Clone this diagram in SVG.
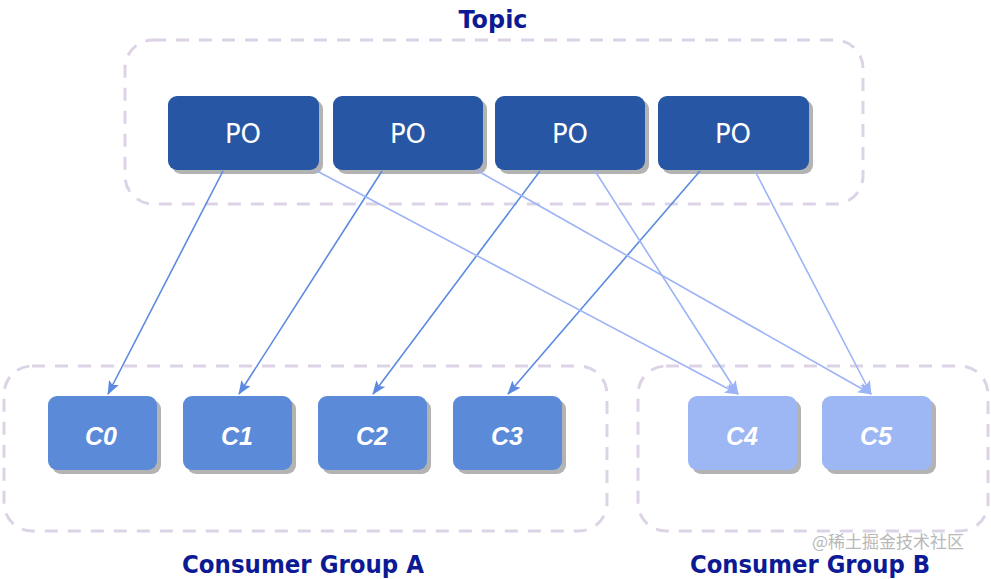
<svg xmlns="http://www.w3.org/2000/svg" width="991" height="579" viewBox="0 0 991 579">
<defs>
<style>
.grp{fill:none;stroke:#ddd3e6;stroke-width:3;stroke-dasharray:13 10}
.sh{fill:#b3b3b3}
.p{fill:#2756a4}
.ca{fill:#5b8ad9}
.cb{fill:#9db6f4}
.pt{font-family:"DejaVu Sans",sans-serif;font-size:26px;fill:#fff;text-anchor:middle}
.ct{font-family:"Liberation Sans",sans-serif;font-size:25px;font-weight:bold;font-style:italic;fill:#fff;text-anchor:middle}
.lbl{font-family:"DejaVu Sans",sans-serif;font-size:24px;font-weight:bold;fill:#0c1a94;text-anchor:middle}
.la{stroke:#5b8ae0;stroke-width:1.6;fill:none}
.lb{stroke:#9cb4f5;stroke-width:1.6;fill:none}
.wm{font-family:"Noto Sans CJK SC",sans-serif;font-size:17px;fill:#b8b8b8}
</style>
<marker id="ma" viewBox="0 0 14 11" refX="13" refY="5.5" markerWidth="14" markerHeight="11" markerUnits="userSpaceOnUse" orient="auto"><path d="M0,0 L14,5.5 L0,11 L3,5.5 Z" fill="#5b8ae0"/></marker>
<marker id="mb" viewBox="0 0 14 11" refX="13" refY="5.5" markerWidth="14" markerHeight="11" markerUnits="userSpaceOnUse" orient="auto"><path d="M0,0 L14,5.5 L0,11 L3,5.5 Z" fill="#9cb4f5"/></marker>
</defs>
<rect width="991" height="579" fill="#fff"/>

<g id="topic">
<rect class="grp" x="125" y="40" width="738" height="164" rx="28"/>
<text class="lbl" x="493" y="28" textLength="69" lengthAdjust="spacingAndGlyphs">Topic</text>
</g>
<g id="groupA">
<rect class="grp" x="4" y="366" width="603" height="165" rx="28"/>
<text class="lbl" x="303" y="573" textLength="242" lengthAdjust="spacingAndGlyphs">Consumer Group A</text>
</g>
<g id="groupB">
<rect class="grp" x="638" y="366" width="350" height="165" rx="28"/>
<text class="lbl" x="810" y="573" textLength="240" lengthAdjust="spacingAndGlyphs">Consumer Group B</text>
</g>

<g id="p1"><rect class="sh" x="172" y="100" width="151" height="74" rx="9"/><rect class="p" x="168" y="96" width="151" height="74" rx="9"/><text class="pt" x="243" y="143">PO</text></g>
<g id="p2"><rect class="sh" x="337" y="100" width="150" height="74" rx="9"/><rect class="p" x="333" y="96" width="150" height="74" rx="9"/><text class="pt" x="408" y="143">PO</text></g>
<g id="p3"><rect class="sh" x="499" y="100" width="150" height="74" rx="9"/><rect class="p" x="495" y="96" width="150" height="74" rx="9"/><text class="pt" x="570" y="143">PO</text></g>
<g id="p4"><rect class="sh" x="662" y="100" width="151" height="74" rx="9"/><rect class="p" x="658" y="96" width="151" height="74" rx="9"/><text class="pt" x="733" y="143">PO</text></g>

<g id="c0"><rect class="sh" x="52" y="400" width="109" height="74" rx="9"/><rect class="ca" x="48" y="396" width="109" height="74" rx="9"/><text class="ct" x="101" y="445">C0</text></g>
<g id="c1"><rect class="sh" x="187" y="400" width="109" height="74" rx="9"/><rect class="ca" x="183" y="396" width="109" height="74" rx="9"/><text class="ct" x="237" y="445">C1</text></g>
<g id="c2"><rect class="sh" x="322" y="400" width="109" height="74" rx="9"/><rect class="ca" x="318" y="396" width="109" height="74" rx="9"/><text class="ct" x="372" y="445">C2</text></g>
<g id="c3"><rect class="sh" x="457" y="400" width="109" height="74" rx="9"/><rect class="ca" x="453" y="396" width="109" height="74" rx="9"/><text class="ct" x="507" y="445">C3</text></g>
<g id="c4"><rect class="sh" x="692" y="400" width="109" height="74" rx="9"/><rect class="cb" x="688" y="396" width="109" height="74" rx="9"/><text class="ct" x="742" y="445">C4</text></g>
<g id="c5"><rect class="sh" x="826" y="400" width="110" height="74" rx="9"/><rect class="cb" x="822" y="396" width="110" height="74" rx="9"/><text class="ct" x="876" y="445">C5</text></g>

<g id="connectors">
<line class="la" x1="223" y1="171" x2="108" y2="394" marker-end="url(#ma)"/>
<line class="la" x1="382" y1="171" x2="239" y2="394" marker-end="url(#ma)"/>
<line class="la" x1="540" y1="171" x2="373" y2="394" marker-end="url(#ma)"/>
<line class="la" x1="700" y1="171" x2="508" y2="394" marker-end="url(#ma)"/>
<line class="lb" x1="317" y1="171" x2="738" y2="394" marker-end="url(#mb)"/>
<line class="lb" x1="595" y1="171" x2="738" y2="394" marker-end="url(#mb)"/>
<line class="lb" x1="478" y1="171" x2="871" y2="394" marker-end="url(#mb)"/>
<line class="lb" x1="755" y1="171" x2="871" y2="394" marker-end="url(#mb)"/>
</g>

<text class="wm" x="812" y="548">@稀土掘金技术社区</text>
</svg>
